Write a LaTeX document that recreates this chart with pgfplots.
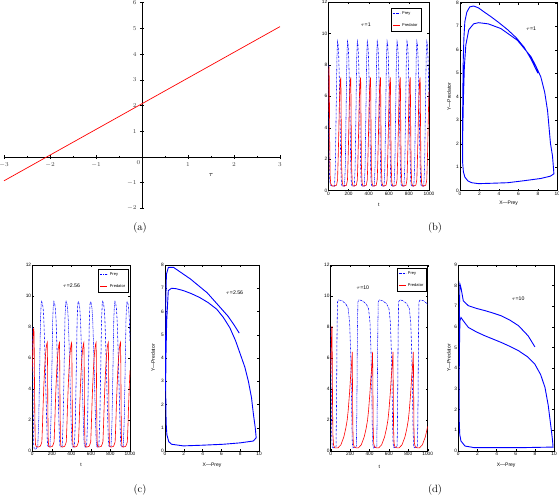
\documentclass[border=0pt]{standalone}
\usepackage{fontspec}
\setsansfont{Liberation Sans}
\usepackage{pgfplots}
\pgfplotsset{compat=1.18}
\definecolor{cblue}{RGB}{0,0,255}
\definecolor{cred}{RGB}{255,0,0}
\tikzset{
  prey/.style={cblue, line width=0.55pt, dash pattern=on 2pt off 0.8pt on 0.4pt off 0.8pt},
  pred/.style={cred, line width=0.6pt},
  orb/.style={cblue, line width=0.9pt},
  tau/.style={font=\fontsize{5.2}{6}\selectfont\sffamily},
}
\pgfplotsset{
  preyleg/.style={legend image code/.code={\draw[draw=cblue, line width=0.9pt, dash pattern=on 2pt off 0.8pt on 0.6pt off 0.8pt] (0pt,0pt) -- (7pt,0pt);}},
  predleg/.style={legend image code/.code={\draw[draw=cred, line width=0.9pt] (0pt,0pt) -- (7pt,0pt);}},
}
\begin{document}
\begin{tikzpicture}
\useasboundingbox (0pt,0pt) rectangle (559pt,498pt);
\pgfplotsset{
  mat/.style={
    scale only axis, anchor=south west,
    axis line style={line width=0.5pt},
    tick align=inside, major tick length=2pt,
    every tick/.style={black, line width=0.4pt},
    ticklabel style={font=\fontsize{4.8}{5.5}\selectfont\sffamily, inner sep=1pt},
    /pgf/number format/assume math mode=true,
    /pgf/number format/1000 sep={},
    scaled ticks=false,
    label style={font=\fontsize{5}{6}\selectfont\sffamily},
  },
  ts/.style={mat, xmin=0, xmax=1000, ymin=0, ymax=12,
    xtick={0,200,...,1000}, ytick={0,2,...,12},
    xlabel={t},
    legend style={font=\fontsize{4}{4.5}\selectfont\sffamily, draw=black, line width=0.4pt,
      inner sep=1.2pt, row sep=3.5pt, cells={anchor=west}},
  },
  ph/.style={mat, xmin=0, xmax=10, ymin=0, ymax=8,
    xtick={0,2,...,10}, ytick={0,...,8},
    xlabel={X—Prey}, ylabel={Y—Predator},
  },
}

% ---------------- (a)
\begin{axis}[at={(4pt,289.7pt)}, anchor=south west, scale only axis,
  width=276pt, height=205.6pt, axis lines=middle,
  axis line style={-, line width=0.6pt},
  every inner x axis line/.append style={-},
  every inner y axis line/.append style={-},
  xmin=-3, xmax=3, ymin=-2, ymax=6,
  xtick={-3,...,3}, xticklabels={$-3$,$-2$,$-1$,,$1$,$2$,$3$},
  ytick={-2,-1,1,2,3,4,5,6},
  minor tick num=1, tick align=center,
  major tick length=4pt, minor tick length=2.5pt,
  every tick/.style={black, line width=0.5pt},
  ticklabel style={font=\fontsize{6.5}{7}\selectfont, text=black!75},
  clip=false]
\addplot[cred, line width=0.7pt] coordinates {(-3,-0.93)(3,5.07)};
\node[font=\fontsize{6.5}{7}\selectfont, text=black!75, anchor=north east, inner sep=1.5pt] at (axis cs:0,-0.08) {$0$};
\node[font=\fontsize{7}{8}\selectfont] at (axis cs:1.5,-0.72) {$\tau$};
\end{axis}
\node[font=\fontsize{10.5}{12}\selectfont] at (140pt,270pt) {(a)};

% ---------------- (b) time series
\begin{axis}[ts, at={(328.5pt,307.3pt)}, width=100.5pt, height=188.7pt,
  xlabel style={at={(axis description cs:0.5,-0.076)}, anchor=center},
  legend style={at={(0.92,0.968)}, anchor=north east}]
\addplot[prey, preyleg] coordinates {
(0,8)(3,5)(6,2.5)(9,1.2)(13,0.6)(20,0.35)(40,0.3)
(60,0.3)(68,1.5)(76,5)(84,8.5)(90,9.5)(96,9.3)(102,8.5)(108,7)(114,5)(120,2.5)(124,1.4)(128,0.5)(134,0.3)
(159,0.3)(167,1.5)(175,5)(183,8.5)(189,9.5)(195,9.3)(201,8.5)(207,7)(213,5)(219,2.5)(223,1.4)(227,0.5)(233,0.3)
(257,0.3)(265,1.5)(273,5)(281,8.5)(287,9.5)(293,9.3)(299,8.5)(305,7)(311,5)(317,2.5)(321,1.4)(325,0.5)(331,0.3)
(356,0.3)(364,1.5)(372,5)(380,8.5)(386,9.5)(392,9.3)(398,8.5)(404,7)(410,5)(416,2.5)(420,1.4)(424,0.5)(430,0.3)
(455,0.3)(463,1.5)(471,5)(479,8.5)(485,9.5)(491,9.3)(497,8.5)(503,7)(509,5)(515,2.5)(519,1.4)(523,0.5)(529,0.3)
(553,0.3)(561,1.5)(569,5)(577,8.5)(583,9.5)(589,9.3)(595,8.5)(601,7)(607,5)(613,2.5)(617,1.4)(621,0.5)(627,0.3)
(652,0.3)(660,1.5)(668,5)(676,8.5)(682,9.5)(688,9.3)(694,8.5)(700,7)(706,5)(712,2.5)(716,1.4)(720,0.5)(726,0.3)
(751,0.3)(759,1.5)(767,5)(775,8.5)(781,9.5)(787,9.3)(793,8.5)(799,7)(805,5)(811,2.5)(815,1.4)(819,0.5)(825,0.3)
(849,0.3)(857,1.5)(865,5)(873,8.5)(879,9.5)(885,9.3)(891,8.5)(897,7)(903,5)(909,2.5)(913,1.4)(917,0.5)(923,0.3)
(948,0.3)(956,1.5)(964,5)(972,8.5)(978,9.5)(984,9.3)(990,8.5)(996,7)(1000,5.7)};
\addlegendentry{Prey}
\addplot[pred, predleg] coordinates {
(0,5)(3,7.3)(6,7.9)(9,6)(12,3)(16,1)(22,0.45)(35,0.3)
(60,0.3)(80,0.35)(90,0.7)(96,2)(102,3.6)(108,5.5)(114,6.6)(120,7.1)(123,7.2)(127,4)(131,1.5)(137,0.5)(146,0.3)
(159,0.3)(179,0.35)(189,0.7)(195,2)(201,3.6)(207,5.5)(213,6.6)(219,7.1)(222,7.2)(226,4)(230,1.5)(236,0.5)(245,0.3)
(257,0.3)(277,0.35)(287,0.7)(293,2)(299,3.6)(305,5.5)(311,6.6)(317,7.1)(320,7.2)(324,4)(328,1.5)(334,0.5)(343,0.3)
(356,0.3)(376,0.35)(386,0.7)(392,2)(398,3.6)(404,5.5)(410,6.6)(416,7.1)(419,7.2)(423,4)(427,1.5)(433,0.5)(442,0.3)
(455,0.3)(475,0.35)(485,0.7)(491,2)(497,3.6)(503,5.5)(509,6.6)(515,7.1)(518,7.2)(522,4)(526,1.5)(532,0.5)(541,0.3)
(553,0.3)(573,0.35)(583,0.7)(589,2)(595,3.6)(601,5.5)(607,6.6)(613,7.1)(616,7.2)(620,4)(624,1.5)(630,0.5)(639,0.3)
(652,0.3)(672,0.35)(682,0.7)(688,2)(694,3.6)(700,5.5)(706,6.6)(712,7.1)(715,7.2)(719,4)(723,1.5)(729,0.5)(738,0.3)
(751,0.3)(771,0.35)(781,0.7)(787,2)(793,3.6)(799,5.5)(805,6.6)(811,7.1)(814,7.2)(818,4)(822,1.5)(828,0.5)(837,0.3)
(849,0.3)(869,0.35)(879,0.7)(885,2)(891,3.6)(897,5.5)(903,6.6)(909,7.1)(912,7.2)(916,4)(920,1.5)(926,0.5)(935,0.3)
(948,0.3)(968,0.35)(978,0.7)(984,2)(990,3.6)(996,5.5)(1000,6.3)};
\addlegendentry{Predator}
\node[tau] at (axis description cs:0.37,0.88) {$\tau$=1};
\end{axis}

% ---------------- (b) phase
\begin{axis}[ph, at={(460pt,307.3pt)}, width=97.3pt, height=188pt,
  xlabel style={at={(axis description cs:0.5,-0.065)}, anchor=center},
  ylabel style={at={(axis description cs:-0.113,0.5)}, anchor=center}]
\addplot[orb] coordinates {
(8.0,5.0)(7.3,5.6)(6.6,6.1)(5.8,6.5)(4.9,6.85)(4.0,7.15)(3.2,7.4)(2.5,7.6)(1.9,7.78)(1.4,7.86)(1.0,7.82)(0.7,7.6)(0.5,7.2)(0.4,6.5)(0.33,5.5)(0.3,4.5)(0.27,3.3)(0.25,2)(0.27,1.2)(0.35,0.8)(0.5,0.58)(0.8,0.42)(1.2,0.34)(1.9,0.3)(3.5,0.32)(4.9,0.34)(6.5,0.42)(8.3,0.52)(9.3,0.62)(9.65,0.72)(9.6,1.0)(9.5,1.5)(9.3,2.0)(9.15,2.7)(9.0,3.4)(8.7,4.2)(8.3,4.85)(7.8,5.3)(7.3,5.7)(5.9,6.4)(4.2,6.9)(2.9,7.1)(1.9,7.15)(1.4,7.1)(0.9,6.85)(0.6,6.2)(0.45,5.3)(0.35,3.9)(0.28,2.4)(0.27,1.2)(0.35,0.8)(0.5,0.58)(0.8,0.42)(1.2,0.34)(1.9,0.3)(3.5,0.32)(4.9,0.34)(6.5,0.42)(8.3,0.52)(9.3,0.62)(9.65,0.72)(9.6,1.0)};
\node[tau] at (axis description cs:0.73,0.86) {$\tau$=1};
\end{axis}
\node[font=\fontsize{10.5}{12}\selectfont] at (435pt,270pt) {(b)};

% ---------------- (c) time series
\begin{axis}[ts, at={(32.3pt,47pt)}, width=97.7pt, height=186pt,
  xlabel style={at={(axis description cs:0.5,-0.075)}, anchor=center},
  legend style={at={(0.985,0.978)}, anchor=north east}]
\addplot[prey, preyleg] coordinates {
(0,8)(3,6.7)(6,4.5)(9,2.7)(12,0.9)(15,0.35)(20,0.12)(30,0.1)(45,0.2)
(56,0.3)(66,2)(76,5.5)(84,8.5)(91,9.5)(96,9.65)(104,9.5)(111,9.2)(118,8.5)(126,7)(134,5.2)(141,3.4)(148,1.8)(153,0.8)(158,0.35)(166,0.25)
(181,0.3)(191,2)(201,5.5)(209,8.5)(216,9.5)(221,9.65)(229,9.5)(236,9.2)(243,8.5)(251,7)(259,5.2)(266,3.4)(273,1.8)(278,0.8)(283,0.35)(291,0.25)
(306,0.3)(316,2)(326,5.5)(334,8.5)(341,9.5)(346,9.65)(354,9.5)(361,9.2)(368,8.5)(376,7)(384,5.2)(391,3.4)(398,1.8)(403,0.8)(408,0.35)(416,0.25)
(431,0.3)(441,2)(451,5.5)(459,8.5)(466,9.5)(471,9.65)(479,9.5)(486,9.2)(493,8.5)(501,7)(509,5.2)(516,3.4)(523,1.8)(528,0.8)(533,0.35)(541,0.25)
(556,0.3)(566,2)(576,5.5)(584,8.5)(591,9.5)(596,9.65)(604,9.5)(611,9.2)(618,8.5)(626,7)(634,5.2)(641,3.4)(648,1.8)(653,0.8)(658,0.35)(666,0.25)
(681,0.3)(691,2)(701,5.5)(709,8.5)(716,9.5)(721,9.65)(729,9.5)(736,9.2)(743,8.5)(751,7)(759,5.2)(766,3.4)(773,1.8)(778,0.8)(783,0.35)(791,0.25)
(806,0.3)(816,2)(826,5.5)(834,8.5)(841,9.5)(846,9.65)(854,9.5)(861,9.2)(868,8.5)(876,7)(884,5.2)(891,3.4)(898,1.8)(903,0.8)(908,0.35)(916,0.25)
(931,0.3)(941,2)(951,5.5)(959,8.5)(966,9.5)(971,9.65)(979,9.5)(986,9.2)(993,8.5)(1000,7.1)};
\addlegendentry{Prey}
\addplot[pred, predleg] coordinates {
(0,5.07)(3,5.8)(6,6.8)(9,7.4)(12,7.9)(15,7.9)(18,7.6)(20,6.3)(23,4)(26,2.2)(29,0.9)(33,0.4)(40,0.3)
(56,0.25)(81,0.3)(91,0.45)(98,0.6)(104,1.6)(111,3)(118,4.2)(126,5.3)(134,6.1)(141,6.6)(148,6.9)(153,7)(156,5.6)(159,2.7)(163,0.7)(168,0.3)
(181,0.25)(206,0.3)(216,0.45)(223,0.6)(229,1.6)(236,3)(243,4.2)(251,5.3)(259,6.1)(266,6.6)(273,6.9)(278,7)(281,5.6)(284,2.7)(288,0.7)(293,0.3)
(306,0.25)(331,0.3)(341,0.45)(348,0.6)(354,1.6)(361,3)(368,4.2)(376,5.3)(384,6.1)(391,6.6)(398,6.9)(403,7)(406,5.6)(409,2.7)(413,0.7)(418,0.3)
(431,0.25)(456,0.3)(466,0.45)(473,0.6)(479,1.6)(486,3)(493,4.2)(501,5.3)(509,6.1)(516,6.6)(523,6.9)(528,7)(531,5.6)(534,2.7)(538,0.7)(543,0.3)
(556,0.25)(581,0.3)(591,0.45)(598,0.6)(604,1.6)(611,3)(618,4.2)(626,5.3)(634,6.1)(641,6.6)(648,6.9)(653,7)(656,5.6)(659,2.7)(663,0.7)(668,0.3)
(681,0.25)(706,0.3)(716,0.45)(723,0.6)(729,1.6)(736,3)(743,4.2)(751,5.3)(759,6.1)(766,6.6)(773,6.9)(778,7)(781,5.6)(784,2.7)(788,0.7)(793,0.3)
(806,0.25)(831,0.3)(841,0.45)(848,0.6)(854,1.6)(861,3)(868,4.2)(876,5.3)(884,6.1)(891,6.6)(898,6.9)(903,7)(906,5.6)(909,2.7)(913,0.7)(918,0.3)
(931,0.25)(956,0.3)(966,0.45)(973,0.6)(979,1.6)(986,3)(993,4.2)(1000,5.2)};
\addlegendentry{Predator}
\node[tau] at (axis description cs:0.40,0.89) {$\tau$=2.56};
\end{axis}

% ---------------- (c) phase
\begin{axis}[ph, at={(165pt,47pt)}, width=94pt, height=186pt,
  xlabel style={at={(axis description cs:0.5,-0.075)}, anchor=center},
  ylabel style={at={(axis description cs:-0.128,0.5)}, anchor=center}]
\addplot[orb] coordinates {
(7.9,5.07)(7.3,5.45)(6.7,5.8)(5.6,6.3)(4.5,6.8)(3.6,7.1)(2.7,7.4)(1.8,7.65)(0.9,7.9)(0.36,7.9)(0.15,7.6)(0.08,6.3)(0.07,4)(0.07,2.7)(0.12,1.2)(0.2,0.7)(0.4,0.4)(0.7,0.29)(1.95,0.22)(4,0.25)(6.2,0.29)(8,0.35)(9.4,0.43)(9.7,0.57)
(9.6,1.0)(9.4,1.6)(9.2,2.3)(8.87,3.0)(8.5,3.6)(7.98,4.2)(7.5,4.75)(6.9,5.3)(6.2,5.75)(5.5,6.1)(4.6,6.38)(3.7,6.6)(2.8,6.77)(1.95,6.9)(1.2,6.98)(0.7,7.0)(0.35,6.9)(0.18,5.6)(0.1,4)(0.07,2.7)(0.12,1.2)(0.2,0.7)(0.4,0.4)(0.7,0.29)(1.95,0.22)(4,0.25)(6.2,0.29)(8,0.35)(9.4,0.43)(9.7,0.57)(9.6,1.0)};
\node[tau] at (axis description cs:0.74,0.85) {$\tau$=2.56};
\end{axis}
\node[font=\fontsize{10.5}{12}\selectfont] at (140pt,8pt) {(c)};

% ---------------- (d) time series
\begin{axis}[ts, at={(330.7pt,47pt)}, width=97pt, height=186pt,
  xlabel style={at={(axis description cs:0.5,-0.086)}, anchor=center},
  legend style={at={(0.99,0.984)}, anchor=north east}]
\addplot[prey, preyleg] coordinates {
(0,8)(4,5)(8,2)(12,0.6)(18,0.25)(30,0.2)
(55,0.3)(60,3)(65,7.5)(70,9.6)(80,9.75)(115,9.7)(155,9.5)(180,9.2)(195,8.3)(205,6.5)(213,4)(219,1.5)(223,0.5)(230,0.2)
(265,0.3)(270,3)(275,7.5)(280,9.6)(290,9.75)(325,9.7)(365,9.5)(390,9.2)(405,8.3)(415,6.5)(423,4)(429,1.5)(433,0.5)(440,0.2)
(475,0.3)(480,3)(485,7.5)(490,9.6)(500,9.75)(535,9.7)(575,9.5)(600,9.2)(615,8.3)(625,6.5)(633,4)(639,1.5)(643,0.5)(650,0.2)
(685,0.3)(690,3)(695,7.5)(700,9.6)(710,9.75)(745,9.7)(785,9.5)(810,9.2)(825,8.3)(835,6.5)(843,4)(849,1.5)(853,0.5)(860,0.2)
(895,0.3)(900,3)(905,7.5)(910,9.6)(920,9.75)(955,9.7)(995,9.5)(1000,9.45)};
\addlegendentry{Prey}
\addplot[pred, predleg] coordinates {
(0,5)(4,6.5)(8,7.2)(11,7.9)(13,8.05)(16,6)(19,3)(23,1)(29,0.4)(40,0.2)
(55,0.2)(75,0.2)(105,0.4)(135,0.9)(155,1.45)(170,2)(180,2.6)(195,3.8)(205,4.8)(213,5.4)(219,6)(222,6.4)(225,4)(228,1.5)(233,0.5)(243,0.25)
(265,0.2)(285,0.2)(315,0.4)(345,0.9)(365,1.45)(380,2)(390,2.6)(405,3.8)(415,4.8)(423,5.4)(429,6)(432,6.4)(435,4)(438,1.5)(443,0.5)(453,0.25)
(475,0.2)(495,0.2)(525,0.4)(555,0.9)(575,1.45)(590,2)(600,2.6)(615,3.8)(625,4.8)(633,5.4)(639,6)(642,6.4)(645,4)(648,1.5)(653,0.5)(663,0.25)
(685,0.2)(705,0.2)(735,0.4)(765,0.9)(785,1.45)(800,2)(810,2.6)(825,3.8)(835,4.8)(843,5.4)(849,6)(852,6.4)(855,4)(858,1.5)(863,0.5)(873,0.25)
(895,0.2)(915,0.2)(945,0.4)(975,0.9)(995,1.45)(1000,1.6)};
\addlegendentry{Predator}
\node[tau] at (axis description cs:0.33,0.88) {$\tau$=10};
\end{axis}

% ---------------- (d) phase
\begin{axis}[ph, ymax=9, ytick={0,...,9}, at={(458.3pt,47pt)}, width=95.7pt, height=186pt,
  xlabel style={at={(axis description cs:0.5,-0.075)}, anchor=center},
  ylabel style={at={(axis description cs:-0.1,0.5)}, anchor=center}]
\addplot[orb] coordinates {
(8.0,5.04)(7.3,5.57)(6.3,6.06)(5.4,6.33)(4.5,6.54)(3.6,6.68)(2.8,6.79)(1.9,6.9)(1.05,7.03)(0.52,7.27)(0.28,7.9)(0.17,8.08)(0.12,7.0)(0.1,5)(0.1,3)(0.1,1.45)(0.15,0.8)(0.28,0.48)(0.7,0.24)(1.7,0.16)(4,0.16)(6.3,0.16)(9.9,0.19)
(9.85,0.5)(9.75,0.9)(9.6,1.45)(9.4,2.2)(9.06,3.07)(8.6,3.7)(8.0,4.2)(7.2,4.57)(6.3,4.85)(5.4,5.06)(4.5,5.25)(3.6,5.42)(2.8,5.57)(1.9,5.76)(1.05,5.98)(0.52,6.3)(0.28,6.46)(0.17,6.3)(0.12,5)(0.1,3.9)(0.1,1.45)(0.15,0.8)(0.28,0.48)(0.7,0.24)(1.7,0.16)(4,0.16)(6.3,0.16)(9.9,0.19)(9.85,0.5)};
\node[tau] at (axis description cs:0.625,0.82) {$\tau$=10};
\end{axis}
\node[font=\fontsize{10.5}{12}\selectfont] at (435pt,8pt) {(d)};
\end{tikzpicture}
\end{document}
